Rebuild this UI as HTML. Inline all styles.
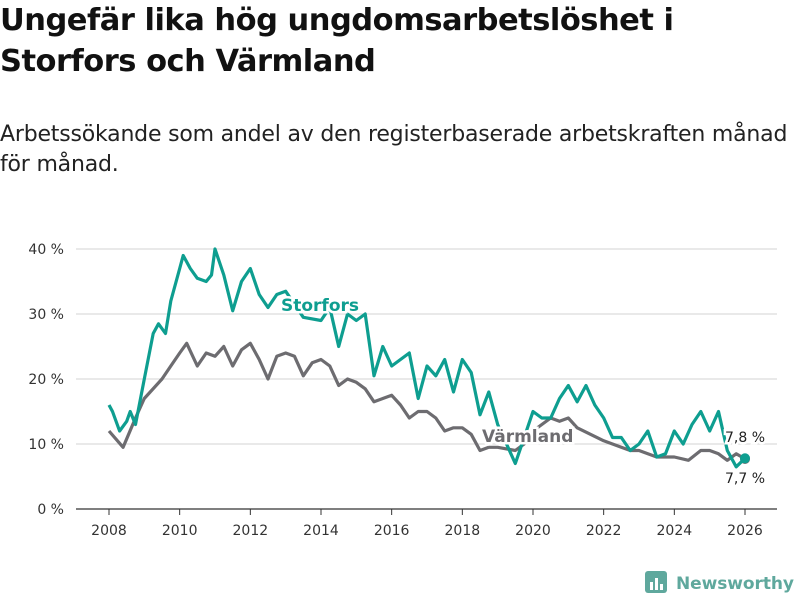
<!DOCTYPE html>
<html><head><meta charset="utf-8"><style>
body{margin:0;background:#fff;width:800px;height:600px;overflow:hidden;font-family:"DejaVu Sans","Liberation Sans",sans-serif;color:#1a1a1a}
h1{position:absolute;left:0;top:0px;margin:0;font-size:30.5px;line-height:41px;font-weight:bold;letter-spacing:-0.5px;color:#111}
p{position:absolute;left:0;top:120px;margin:0;font-size:22px;line-height:30px;color:#222;letter-spacing:-0.2px}
svg{position:absolute;left:0;top:0}
</style></head><body>
<h1>Ungefär lika hög ungdomsarbetslöshet i<br>Storfors och Värmland</h1>
<p>Arbetssökande som andel av den registerbaserade arbetskraften månad<br>för månad.</p>
<svg id="c" width="800" height="600"></svg>
<script>
const yTicks=[0,10,20,30,40];
const xTicks=[2008,2010,2012,2014,2016,2018,2020,2022,2024,2026];
const storYears=[2008,2008.1,2008.3,2008.5,2008.6,2008.75,2009,2009.25,2009.4,2009.6,2009.75,2010,2010.1,2010.3,2010.5,2010.75,2010.9,2011,2011.25,2011.5,2011.75,2012,2012.25,2012.5,2012.75,2013,2013.5,2014,2014.25,2014.5,2014.75,2015,2015.25,2015.5,2015.75,2016,2016.25,2016.5,2016.75,2017,2017.25,2017.5,2017.75,2018,2018.25,2018.5,2018.75,2019,2019.5,2019.75,2020,2020.25,2020.5,2020.75,2021,2021.25,2021.5,2021.75,2022,2022.25,2022.5,2022.75,2023,2023.25,2023.5,2023.75,2024,2024.25,2024.5,2024.75,2025,2025.25,2025.5,2025.75,2026];
const storfors=[16,15,12,13.5,15,13,20,27,28.5,27,32,37,39,37,35.5,35,36,40,36,30.5,35,37,33,31,33,33.5,29.5,29,31,25,30,29,30,20.5,25,22,23,24,17,22,20.5,23,18,23,21,14.5,18,13,7,11,15,14,14,17,19,16.5,19,16,14,11,11,9,10,12,8,8.5,12,10,13,15,12,15,9,6.5,7.8];
const varmYears=[2008,2008.4,2008.75,2009,2009.5,2009.75,2010,2010.2,2010.5,2010.75,2011,2011.25,2011.5,2011.75,2012,2012.25,2012.5,2012.75,2013,2013.25,2013.5,2013.75,2014,2014.25,2014.5,2014.75,2015,2015.25,2015.5,2015.75,2016,2016.25,2016.5,2016.75,2017,2017.25,2017.5,2017.75,2018,2018.25,2018.5,2018.75,2019,2019.5,2019.75,2020,2020.5,2020.75,2021,2021.25,2022,2022.25,2022.5,2022.75,2023,2023.5,2024,2024.4,2024.75,2025,2025.25,2025.5,2025.75,2026];
const varmland=[12,9.5,14,17,20,22,24,25.5,22,24,23.5,25,22,24.5,25.5,23,20,23.5,24,23.5,20.5,22.5,23,22,19,20,19.5,18.5,16.5,17,17.5,16,14,15,15,14,12,12.5,12.5,11.5,9,9.5,9.5,9,10,12,14,13.5,14,12.5,10.5,10,9.5,9,9,8,8,7.5,9,9,8.5,7.5,8.5,7.7];
const svg=document.getElementById('c');const NS='http://www.w3.org/2000/svg';
const X=y=>109+(y-2008)*35.333, Y=v=>509-v*6.5;
function mk(t,a,txt){const e=document.createElementNS(NS,t);for(const k in a)e.setAttribute(k,a[k]);if(txt!=null)e.textContent=txt;svg.appendChild(e);return e;}
yTicks.forEach(v=>{
 const g=mk('line',{x1:76,x2:777,y1:Y(v),y2:Y(v),stroke:v===0?'#333':'#dcdcdc','stroke-width':v===0?1.2:1.3});
 
 
 const t=mk('text',{x:64,y:Y(v)+5,'text-anchor':'end','font-size':14,fill:'#333'},v+' %');
 
 
});
xTicks.forEach(yr=>{
 const l=mk('line',{x1:X(yr),x2:X(yr),y1:509,y2:515,stroke:'#333'});
 
 
 const t=mk('text',{x:X(yr),y:535,'text-anchor':'middle','font-size':14,fill:'#333'},yr);
 
 
});
function line(xs,vs,col,name){
 const d=xs.map((x,i)=>(i?'L':'M')+X(x).toFixed(1)+','+Y(vs[i]).toFixed(1)).join('');
 const p=mk('path',{d,fill:'none',stroke:col,'stroke-width':3.2,'stroke-linejoin':'round'});
 
 
 const c=mk('circle',{cx:X(xs[xs.length-1]),cy:Y(vs[vs.length-1]),r:5,fill:col});
 
 
}
line(varmYears,varmland,'#6d6c70','varmland-line');
line(storYears,storfors,'#0e9e90','storfors-line');
function lab(x,y,txt,col,name,size,w,anchor){
 const t=mk('text',{x,y,fill:col,'font-size':size,'font-weight':w,stroke:'#fff','stroke-width':5,'paint-order':'stroke','text-anchor':anchor||'start'},txt);
 
 
}
lab(281,311,'Storfors','#0e9e90','storfors-label',17,'bold');
lab(482,442,'Värmland','#6d6c70','varmland-label',17,'bold');
lab(725,442,'7,8 %','#222','storfors-end-value',14,'normal');
lab(725,483,'7,7 %','#222','varmland-end-value',14,'normal');
const g=mk('rect',{x:645,y:571,width:22,height:22,rx:3,fill:'#5fa89d'});


[[650,582,3,8],[655,578,3,12],[660,584,3,6]].forEach(b=>{mk('rect',{x:b[0],y:b[1],width:b[2],height:b[3],fill:'#fff'});});
const lt=mk('text',{x:676,y:589,'font-size':17,'font-weight':'bold',fill:'#5fa89d',textLength:118},'Newsworthy');


</script>
</body></html>
